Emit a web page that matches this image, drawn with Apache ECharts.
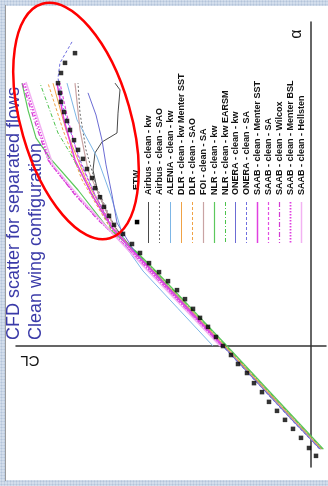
<!DOCTYPE html>
<html><head><meta charset="utf-8">
<script src="https://cdn.jsdelivr.net/npm/echarts@6/dist/echarts.min.js"></script>
<style>
html,body{margin:0;padding:0;}
body{width:328px;height:486px;background-color:#d3deec;background-image:radial-gradient(#b3c4da 0.9px, transparent 1.1px);background-size:3px 3px;overflow:hidden}
#c{width:328px;height:486px}
</style></head><body><div id="c"></div>
<script>
// values are [CL, alpha(deg)]
const etw = [[-0.025,-2.93],[0.01,-2.72],[0.05,-2.45],[0.09,-2.21],[0.13,-1.97],[0.17,-1.73],[0.21,-1.49],[0.245,-1.23],[0.285,-0.99],[0.32,-0.72],[0.365,-0.48],[0.40,-0.24],[0.44,0],[0.475,0.24],[0.515,0.51],[0.555,0.75],[0.59,0.99],[0.63,1.25],[0.67,1.49],[0.715,1.73],[0.76,1.97],[0.81,2.21],[0.855,2.48],[0.895,2.72],[0.94,2.99],[0.985,3.23],[1.01,3.47],[1.035,3.71],[1.055,3.97],[1.08,4.21],[1.095,4.48],[1.12,4.72],[1.14,4.99],[1.165,5.23],[1.185,5.49],[1.205,5.76],[1.22,6.0],[1.235,6.24],[1.25,6.51],[1.255,6.75],[1.265,7.01],[1.25,7.28],[1.23,7.55],[1.18,7.81]];
const airbusKw = [[-0.05,-2.75],[0.083,-2],[0.259,-1],[0.435,0],[0.611,1],[0.787,2],[0.88,2.5],[0.98,3.17],[1.02,3.55],[1.065,4.08],[1.09,4.69],[1.08,5.15],[1.045,5.44],[0.97,5.68],[0.965,6.21],[0.955,6.83],[0.98,7.01]];
const airbusSao = [[-0.048,-2.75],[0.085,-2],[0.261,-1],[0.437,0],[0.613,1],[0.789,2],[0.88,2.5],[0.965,3.04],[1.015,3.55],[1.075,4.29],[1.125,5.23],[1.155,6.21],[1.165,7.01]];
const aleniaKw = [[0.49,0],[0.665,1],[0.84,2],[0.92,2.6],[0.95,3.1],[1.0,4.0],[1.07,5.04],[1.17,6.03],[1.22,7.01]];
const dlrKwSst = [[-0.055,-2.75],[0.078,-2],[0.253,-1],[0.43,0],[0.607,1],[0.785,2],[0.875,2.5],[0.995,3.17],[1.125,4.43],[1.225,5.76],[1.29,7.01]];
const dlrSao = [[-0.053,-2.75],[0.08,-2],[0.255,-1],[0.432,0],[0.609,1],[0.786,2],[0.877,2.5],[1.005,3.15],[1.145,4.43],[1.24,5.76],[1.315,7.01]];
const foiSa = [[-0.048,-2.75],[0.085,-2],[0.262,-1],[0.438,0],[0.613,1],[0.789,2],[0.88,2.5],[0.965,3.01],[1.02,3.55],[1.115,4.69],[1.155,5.76],[1.18,7.01]];
const nlrKw = [[-0.062,-2.75],[0.07,-2],[0.245,-1],[0.42,0],[0.598,1],[0.776,2],[0.87,2.5],[1.02,3.17],[1.165,4.16],[1.305,5.01],[1.375,5.55],[1.415,6.29],[1.445,7.01]];
const nlrEarsm = [[-0.058,-2.75],[0.074,-2],[0.249,-1],[0.425,0],[0.602,1],[0.78,2],[0.872,2.5],[0.995,3.09],[1.07,3.81],[1.205,5.15],[1.265,5.68],[1.355,7.01]];
const oneraKw = [[-0.045,-2.75],[0.09,-2],[0.265,-1],[0.44,0],[0.615,1],[0.79,2],[0.88,2.5],[0.97,3.28],[0.995,4.03],[1.025,4.83],[1.045,5.49],[1.075,6.16],[1.115,6.75]];
const oneraSa = [[-0.043,-2.75],[0.092,-2],[0.267,-1],[0.442,0],[0.617,1],[0.792,2],[0.882,2.5],[0.995,3.15],[1.08,4.03],[1.155,4.96],[1.205,5.76],[1.245,6.48],[1.265,7.15],[1.255,7.55],[1.195,8.11]];
const saabSst = [[0.44,0],[0.618,1],[0.795,2],[0.885,2.5],[0.995,3.15],[1.095,4.03],[1.18,4.96],[1.235,6.03],[1.27,7.01]];
const saabSa = [[0.442,0],[0.62,1],[0.797,2],[0.887,2.5],[0.99,3.15],[1.08,4.03],[1.16,4.96],[1.215,6.03],[1.255,7.01]];
const saabWilcox = [[0.45,0],[0.63,1],[0.81,2],[0.9,2.5],[0.97,2.91],[1.055,3.31],[1.18,4.03],[1.315,4.96],[1.375,5.89],[1.445,7.04]];
const saabBsl = [[0.448,0],[0.627,1],[0.806,2],[0.895,2.5],[1.045,3.28],[1.165,3.97],[1.305,4.88],[1.365,5.89],[1.435,7.04]];
const saabHellsten = [[0.455,0],[0.635,1],[0.815,2],[0.905,2.5],[1.035,3.25],[1.155,3.95],[1.29,4.83],[1.355,5.89],[1.425,7.04]];

const lineNames = ['Airbus - clean - kw','Airbus - clean - SAO','ALENIA - clean - kw','DLR - clean - kw Menter SST','DLR - clean - SAO','FOI - clean - SA','NLR - clean - kw','NLR - clean - kw EARSM','ONERA - clean - kw','ONERA - clean - SA','SAAB - clean - Menter SST','SAAB - clean - SA','SAAB - clean - Wilcox','SAAB - clean - Menter BSL','SAAB - clean - Hellsten'];
const lineData = [airbusKw, airbusSao, aleniaKw, dlrKwSst, dlrSao, foiSa, nlrKw, nlrEarsm, oneraKw, oneraSa, saabSst, saabSa, saabWilcox, saabBsl, saabHellsten];
const titleLines = ['CFD scatter for separated flows','Clean wing configuration'];

const styles = [
  {c:'#4a4a4a', t:'solid', w:1},
  {c:'#6a6a6a', t:[2,2], w:1},
  {c:'#7db6e6', t:'solid', w:1},
  {c:'#f0a245', t:'solid', w:1},
  {c:'#f0a245', t:[3,2], w:1},
  {c:'#c9a3a3', t:'solid', w:1.2},
  {c:'#5cc85c', t:'solid', w:1.2},
  {c:'#4cc24c', t:[4,2,1,2], w:1},
  {c:'#6c6cd4', t:'solid', w:1},
  {c:'#6f6fe0', t:[3,2], w:1},
  {c:'#e040e0', t:'solid', w:1.5},
  {c:'#e24fe2', t:[3,2], w:1.2},
  {c:'#d23ad2', t:[5,2,1,2], w:1.2},
  {c:'#e040e0', t:[1.5,1.5], w:1.8},
  {c:'#f2b2f2', t:'solid', w:1.5}
];
const FONT = '"Liberation Sans", Arial, sans-serif';

const series = lineData.map((d,i)=>({
  type:'line', name:lineNames[i], data:d, showSymbol:false, symbol:'none',
  lineStyle:{color:styles[i].c, type:styles[i].t, width:styles[i].w}, z:2+ (i>=10?1:0), silent:true
}));
series.push({type:'scatter', name:'ETW', data:etw, symbol:'rect', symbolSize:4.5, itemStyle:{color:'#000'}, z:5});

const graphics = [
  {type:'rect', shape:{x:6,y:6,width:322,height:474}, style:{fill:'#fff'}, z:-10, silent:true},
  {type:'line', shape:{x1:5.5,y1:5,x2:5.5,y2:481}, style:{stroke:'#9a9a9a', lineWidth:1}, z:-9},
  {type:'text', x:14, y:340, rotation:Math.PI/2, style:{text:titleLines[0], font:'18px '+FONT, fill:'#3a3aa8', align:'left', verticalAlign:'middle', textAlign:'left', textVerticalAlign:'middle'}, z:10},
  {type:'text', x:36, y:340, rotation:Math.PI/2, style:{text:titleLines[1], font:'18px '+FONT, fill:'#3a3aa8', align:'left', verticalAlign:'middle', textAlign:'left', textVerticalAlign:'middle'}, z:10},
  {type:'text', x:30, y:360, rotation:Math.PI, style:{text:'CL', font:'15px '+FONT, fill:'#111', align:'center', verticalAlign:'middle', textAlign:'center', textVerticalAlign:'middle'}, z:10},
  {type:'text', x:297, y:34, rotation:Math.PI/2, style:{text:'α', font:'16px '+FONT, fill:'#111', align:'center', verticalAlign:'middle', textAlign:'center', textVerticalAlign:'middle'}, z:10},
  {type:'text', x:137, y:190, rotation:Math.PI/2, style:{text:'ETW', font:'bold 9px '+FONT, fill:'#111', align:'left', verticalAlign:'middle', textAlign:'left', textVerticalAlign:'middle'}, z:10},
  {type:'rect', shape:{x:134.8,y:219.8,width:4.5,height:4.5}, style:{fill:'#000'}, z:10},
  {type:'ellipse', x:76, y:121, rotation:0.28, shape:{cx:0, cy:0, rx:55, ry:122}, style:{fill:null, stroke:'#ff0000', lineWidth:2.5}, z:20, silent:true}
];
lineNames.forEach((n,i)=>{
  const x = Math.round(148 + i*10.93) + 0.5;
  graphics.push({type:'line', shape:{x1:x,y1:202,x2:x,y2:243}, style:{stroke:styles[i].c, lineWidth:styles[i].w, lineDash: styles[i].t==='solid'?null:styles[i].t}, z:10});
  graphics.push({type:'text', x:x, y:195, rotation:Math.PI/2, style:{text:n, font:'bold 9px '+FONT, fill:'#111', align:'left', verticalAlign:'middle', textAlign:'left', textVerticalAlign:'middle'}, z:10});
});

const chart = echarts.init(document.getElementById('c'), null, {renderer:'canvas'});
chart.setOption({
  animation:false,
  backgroundColor:'transparent',
  grid:{left:16, right:2, top:22, bottom:19},
  xAxis:{type:'value', inverse:true, min:-0.075, max:1.475, axisLine:{onZero:true, lineStyle:{color:'#333', width:1.5}}, axisTick:{show:false}, axisLabel:{show:false}, splitLine:{show:false}},
  yAxis:{type:'value', min:-3.2267, max:8.64, axisLine:{show:true, onZero:true, lineStyle:{color:'#333', width:1.5}}, axisTick:{show:false}, axisLabel:{show:false}, splitLine:{show:false}},
  series:series,
  graphic:graphics
});
</script></body></html>
